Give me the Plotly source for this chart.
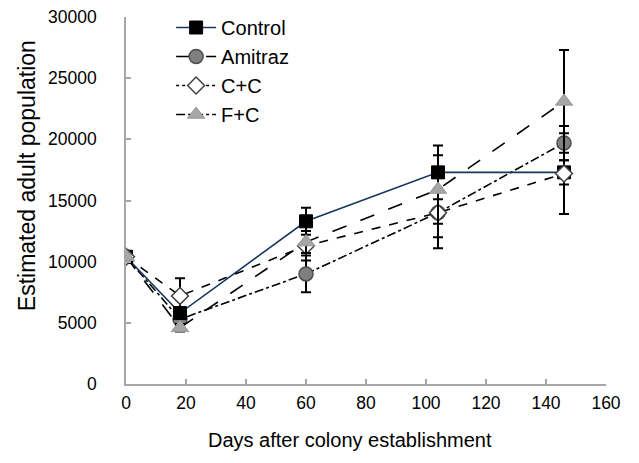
import plotly.graph_objects as go

days = [0, 18, 60, 104, 146]

control = [10400, 5800, 13300, 17300, 17300]
control_err = [0, 400, 1100, 2200, 1000]

amitraz = [10400, 5300, 9000, 14000, 19700]
amitraz_err = [0, 500, 1500, 2000, 1400]

cc = [10400, 7200, 11300, 14000, 17200]
cc_err = [0, 1450, 1200, 2900, 3300]

fc = [10400, 4600, 11600, 15900, 23100]
fc_err = [0, 300, 900, 2800, 4200]

x_ticks = [0, 20, 40, 60, 80, 100, 120, 140, 160]
y_ticks = [0, 5000, 10000, 15000, 20000, 25000, 30000]

FONT = "Liberation Sans, Arial, sans-serif"

series = {
    "Control": (control, control_err, "#17375e", "solid", "solid",
                dict(symbol="square", size=13, color="black", line=dict(color="black", width=1))),
    "Amitraz": (amitraz, amitraz_err, "black", "dashdot", "longdash",
                dict(symbol="circle", size=14, color="#7f7f7f", line=dict(color="#4d4d4d", width=1.5))),
    "C+C": (cc, cc_err, "black", "dash", "dot",
            dict(symbol="diamond", size=13, color="white", line=dict(color="#404040", width=1.5))),
    "F+C": (fc, fc_err, "black", "longdash", "dashdot",
            dict(symbol="triangle-up", size=15, color="#a6a6a6", line=dict(color="#999999", width=1))),
}

draw_order = ["Amitraz", "Control", "C+C", "F+C"]
legend_order = ["Control", "Amitraz", "C+C", "F+C"]

fig = go.Figure()

for name in draw_order:
    y, err, col, dash, ldash, marker = series[name]
    fig.add_trace(go.Scatter(
        x=days, y=y, mode="lines+markers", name=name, showlegend=False,
        line=dict(color=col, width=1.6, dash=dash),
        marker=marker,
        error_y=dict(type="data", array=err, visible=True, color="black",
                     thickness=2, width=5),
    ))

for name in legend_order:
    y, err, col, dash, ldash, marker = series[name]
    fig.add_trace(go.Scatter(
        x=[None], y=[None], mode="lines+markers", name=name,
        line=dict(color=col, width=1.6, dash=ldash),
        marker=marker,
    ))

axis_common = dict(
    showline=True, linecolor="#a6a6a6", linewidth=1.5,
    ticks="inside", ticklen=5, tickcolor="#a6a6a6", tickwidth=1.5,
    showgrid=False, zeroline=False, automargin=False,
    ticklabeloverflow="allow",
    tickfont=dict(family=FONT, size=17.5, color="black"),
)

# page body has an 8px default margin, so margins are offset accordingly
fig.update_layout(
    width=639, height=463,
    margin=dict(l=118, r=41, t=9, b=87, autoexpand=False),
    paper_bgcolor="white", plot_bgcolor="white",
    font=dict(family=FONT, size=17.5, color="black"),
    xaxis=dict(range=[0, 160], tickvals=x_ticks, ticktext=[str(v) for v in x_ticks],
               ticklabelstandoff=2, **axis_common),
    yaxis=dict(range=[0, 30000], tickvals=y_ticks, ticktext=[str(v) for v in y_ticks],
               ticklabelstandoff=24, **axis_common),
    legend=dict(x=0.094, y=1.0245, xanchor="left", yanchor="top",
                bgcolor="rgba(0,0,0,0)", tracegroupgap=0,
                font=dict(family=FONT, size=20), itemwidth=40),
    annotations=[
        dict(text="Days after colony establishment", xref="paper", yref="paper",
             x=0.467, y=-0.153, xanchor="center", yanchor="middle", showarrow=False,
             font=dict(family=FONT, size=20, color="black")),
        dict(text="Estimated adult population", xref="paper", yref="paper",
             x=-0.207, y=0.568, xanchor="center", yanchor="middle", showarrow=False,
             textangle=-90, font=dict(family=FONT, size=23, color="black")),
    ],
)

fig.write_html("out.html")
